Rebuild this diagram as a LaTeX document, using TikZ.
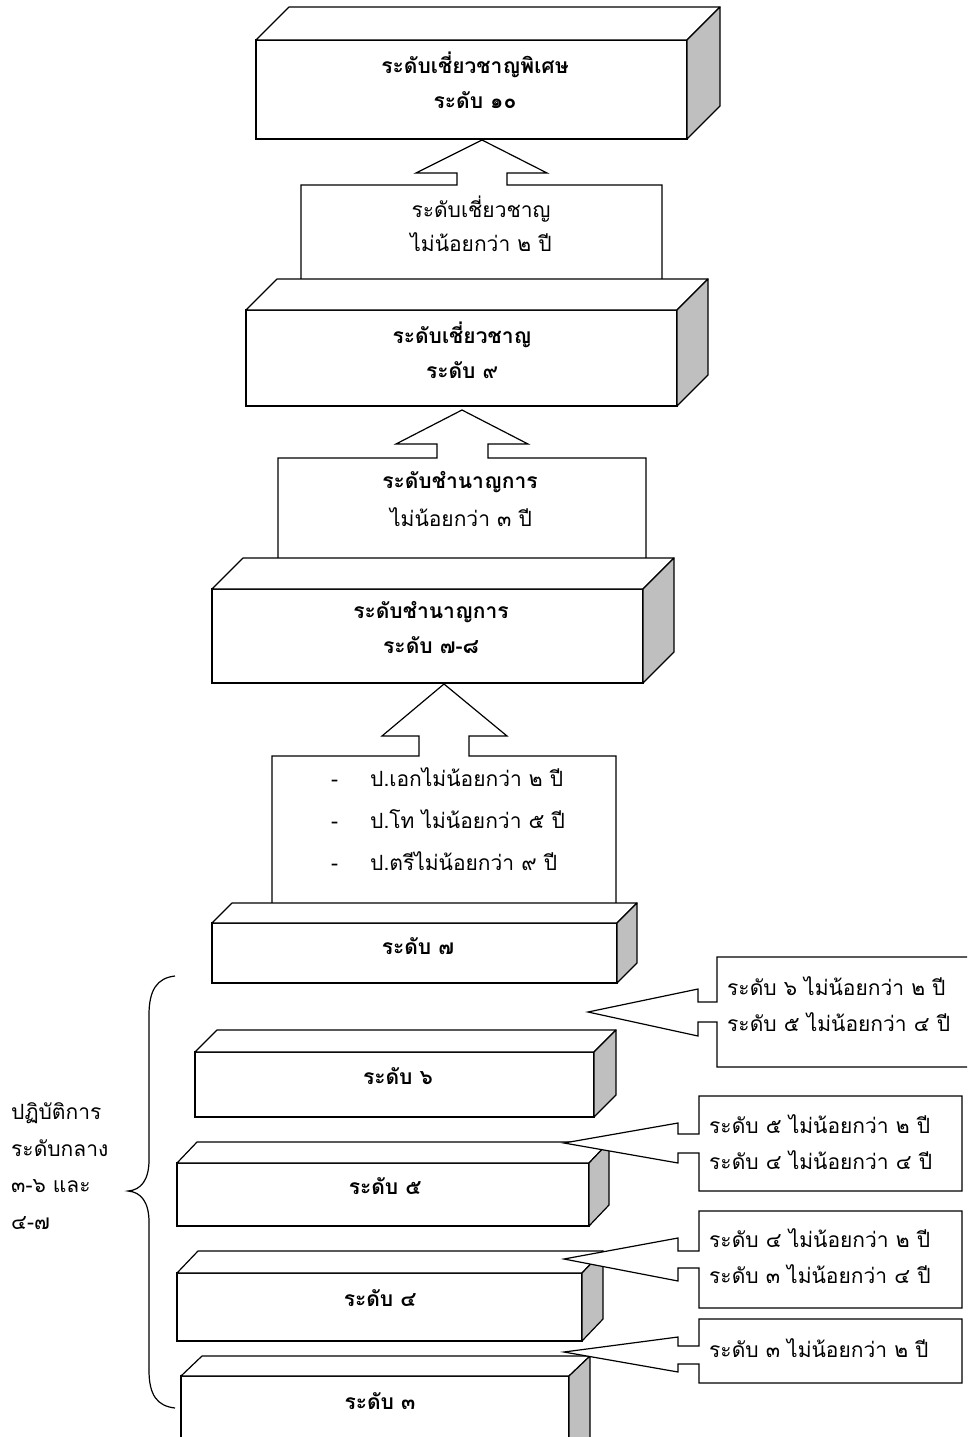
\documentclass[tikz,border=0pt]{standalone}
\usepackage{fontspec}
\newfontfamily\thai[Script=Thai]{Loma}
\tikzset{
	block/.style={draw, fill=white, line width=1.2pt, outer sep=0pt, inner sep=0pt},
	face/.style={draw, fill=white, line width=1.2pt, line join=round},
	sideface/.style={draw, fill=gray!50, line width=1.2pt, line join=round},
	callout/.style={draw, fill=white, line width=1.2pt},
	note/.style={align=left, inner sep=0pt, font=\thai\fontsize{21}{36}\selectfont},
	notebf/.style={note, align=center, font=\thai\bfseries\fontsize{21}{35}\selectfont}
}
\newcommand{\Slab}[3]{
	\draw[face] (#1.north west) -- ++(#2,-#3) -- ([shift={(#2,-#3)}]#1.north east) -- (#1.north east) -- cycle;
	\draw[sideface] (#1.north east) -- ++(#2,-#3) -- ([shift={(#2,-#3)}]#1.south east) -- (#1.south east) -- cycle;
}

\begin{document}
\begin{tikzpicture}[x=1pt,y=-1pt]
	\useasboundingbox (0,0) rectangle (967,1437);
	\clip (0,0) rectangle (967,1437);

	\draw[callout] (301,295) -- (301,185) -- (457,185) -- (457,173) -- (416,173) -- (482,140) -- (547,173) -- (507,173) -- (507,185) -- (662,185) -- (662,295);
	\draw[callout] (278,570) -- (278,458) -- (437,458) -- (437,444) -- (396,444) -- (462,410) -- (528,444) -- (488,444) -- (488,458) -- (646,458) -- (646,570);
	\draw[callout] (272,912) -- (272,756) -- (419,756) -- (419,736) -- (382,736) -- (444,684) -- (507,736) -- (469,736) -- (469,756) -- (616,756) -- (616,912);

	\node[note, align=center, font=\thai\fontsize{21}{34}\selectfont] (c9) at (481,224) {ระดับเชี่ยวชาญ\\ไม่น้อยกว่า ๒ ปี};
	\node[notebf] (c78a) at (460,482) {ระดับชำนาญการ};
	\node[note] (c78b) at (461,517) {ไม่น้อยกว่า ๓ ปี};
	\node[note, anchor=west, font=\thai\fontsize{21}{42}\selectfont] (c7) at (331,819) {\makebox[39pt][l]{-}ป.เอกไม่น้อยกว่า ๒ ปี\\\makebox[39pt][l]{-}ป.โท ไม่น้อยกว่า ๕ ปี\\\makebox[39pt][l]{-}ป.ตรีไม่น้อยกว่า ๙ ปี};

	\node[block, minimum width=431, minimum height=99] (l10) at (471.5,89.5) {};
	\Slab{l10}{33}{33}
	\node[notebf] (t10) at (475,80.5) {ระดับเชี่ยวชาญพิเศษ\\ระดับ ๑๐};
	\node[block, minimum width=431, minimum height=96] (l9) at (461.5,358) {};
	\Slab{l9}{31}{31}
	\node[notebf] (t9) at (462,350.5) {ระดับเชี่ยวชาญ\\ระดับ ๙};
	\node[block, minimum width=431, minimum height=94] (l78) at (427.5,636) {};
	\Slab{l78}{31}{31}
	\node[notebf] (t78) at (431,628) {ระดับชำนาญการ\\ระดับ ๗-๘};
	\node[block, minimum width=405, minimum height=60] (l7) at (414.5,953) {};
	\Slab{l7}{20}{20}
	\node[notebf] (t7) at (418,946) {ระดับ ๗};
	\node[block, minimum width=399, minimum height=65] (l6) at (394.5,1084.5) {};
	\Slab{l6}{22}{22}
	\node[notebf] (t6) at (398,1076.5) {ระดับ ๖};
	\node[block, minimum width=412, minimum height=63] (l5) at (383,1194.5) {};
	\Slab{l5}{20}{21}
	\node[notebf] (t5) at (385,1186.5) {ระดับ ๕};
	\node[block, minimum width=405, minimum height=68] (l4) at (379.5,1307) {};
	\Slab{l4}{21}{22}
	\node[notebf] (t4) at (380,1298.5) {ระดับ ๔};
	\node[block, minimum width=388, minimum height=90] (l3) at (375,1421) {};
	\Slab{l3}{21}{20}
	\node[notebf] (t3) at (380,1401) {ระดับ ๓};

	\draw[callout] (717,1002) -- (717,957) -- (1000,957) -- (1000,1067) -- (717,1067) -- (717,1022) -- (698,1022) -- (698,1036) -- (588,1012) -- (698,989) -- (698,1002) -- cycle;
	\draw[callout] (699,1134) -- (699,1096) -- (962,1096) -- (962,1191) -- (699,1191) -- (699,1153) -- (678,1153) -- (678,1163) -- (564,1143) -- (678,1123) -- (678,1134) -- cycle;
	\draw[callout] (699,1251) -- (699,1211) -- (962,1211) -- (962,1308) -- (699,1308) -- (699,1268) -- (678,1268) -- (678,1281) -- (564,1259) -- (678,1238) -- (678,1251) -- cycle;
	\draw[callout] (699,1346) -- (699,1319) -- (962,1319) -- (962,1383) -- (699,1383) -- (699,1364) -- (678,1364) -- (678,1372) -- (564,1352) -- (678,1337) -- (678,1346) -- cycle;

	\node[note, anchor=west] (r6) at (727,1004) {ระดับ ๖ ไม่น้อยกว่า ๒ ปี\\ ระดับ ๕ ไม่น้อยกว่า ๔ ปี};
	\node[note, anchor=west] (r5) at (709,1142) {ระดับ ๕ ไม่น้อยกว่า ๒ ปี\\ระดับ ๔ ไม่น้อยกว่า ๔ ปี};
	\node[note, anchor=west] (r4) at (709,1256) {ระดับ ๔ ไม่น้อยกว่า ๒ ปี\\ระดับ ๓ ไม่น้อยกว่า ๔ ปี};
	\node[note, anchor=west] (r3) at (709,1348) {ระดับ ๓ ไม่น้อยกว่า ๒ ปี};

	\draw[line width=1.2pt] (175,976) .. controls (157,978) and (149,990) .. (149,1015) -- (149,1160) .. controls (149,1180) and (141,1190) .. (128,1191) .. controls (141,1192) and (149,1202) .. (149,1222) -- (149,1370) .. controls (149,1395) and (157,1406) .. (175,1408);
	\node[note, anchor=west, font=\thai\fontsize{21}{36.5}\selectfont] (mid) at (11,1166) {ปฏิบัติการ\\ระดับกลาง\\๓-๖ และ\\๔-๗};
\end{tikzpicture}
\end{document}
